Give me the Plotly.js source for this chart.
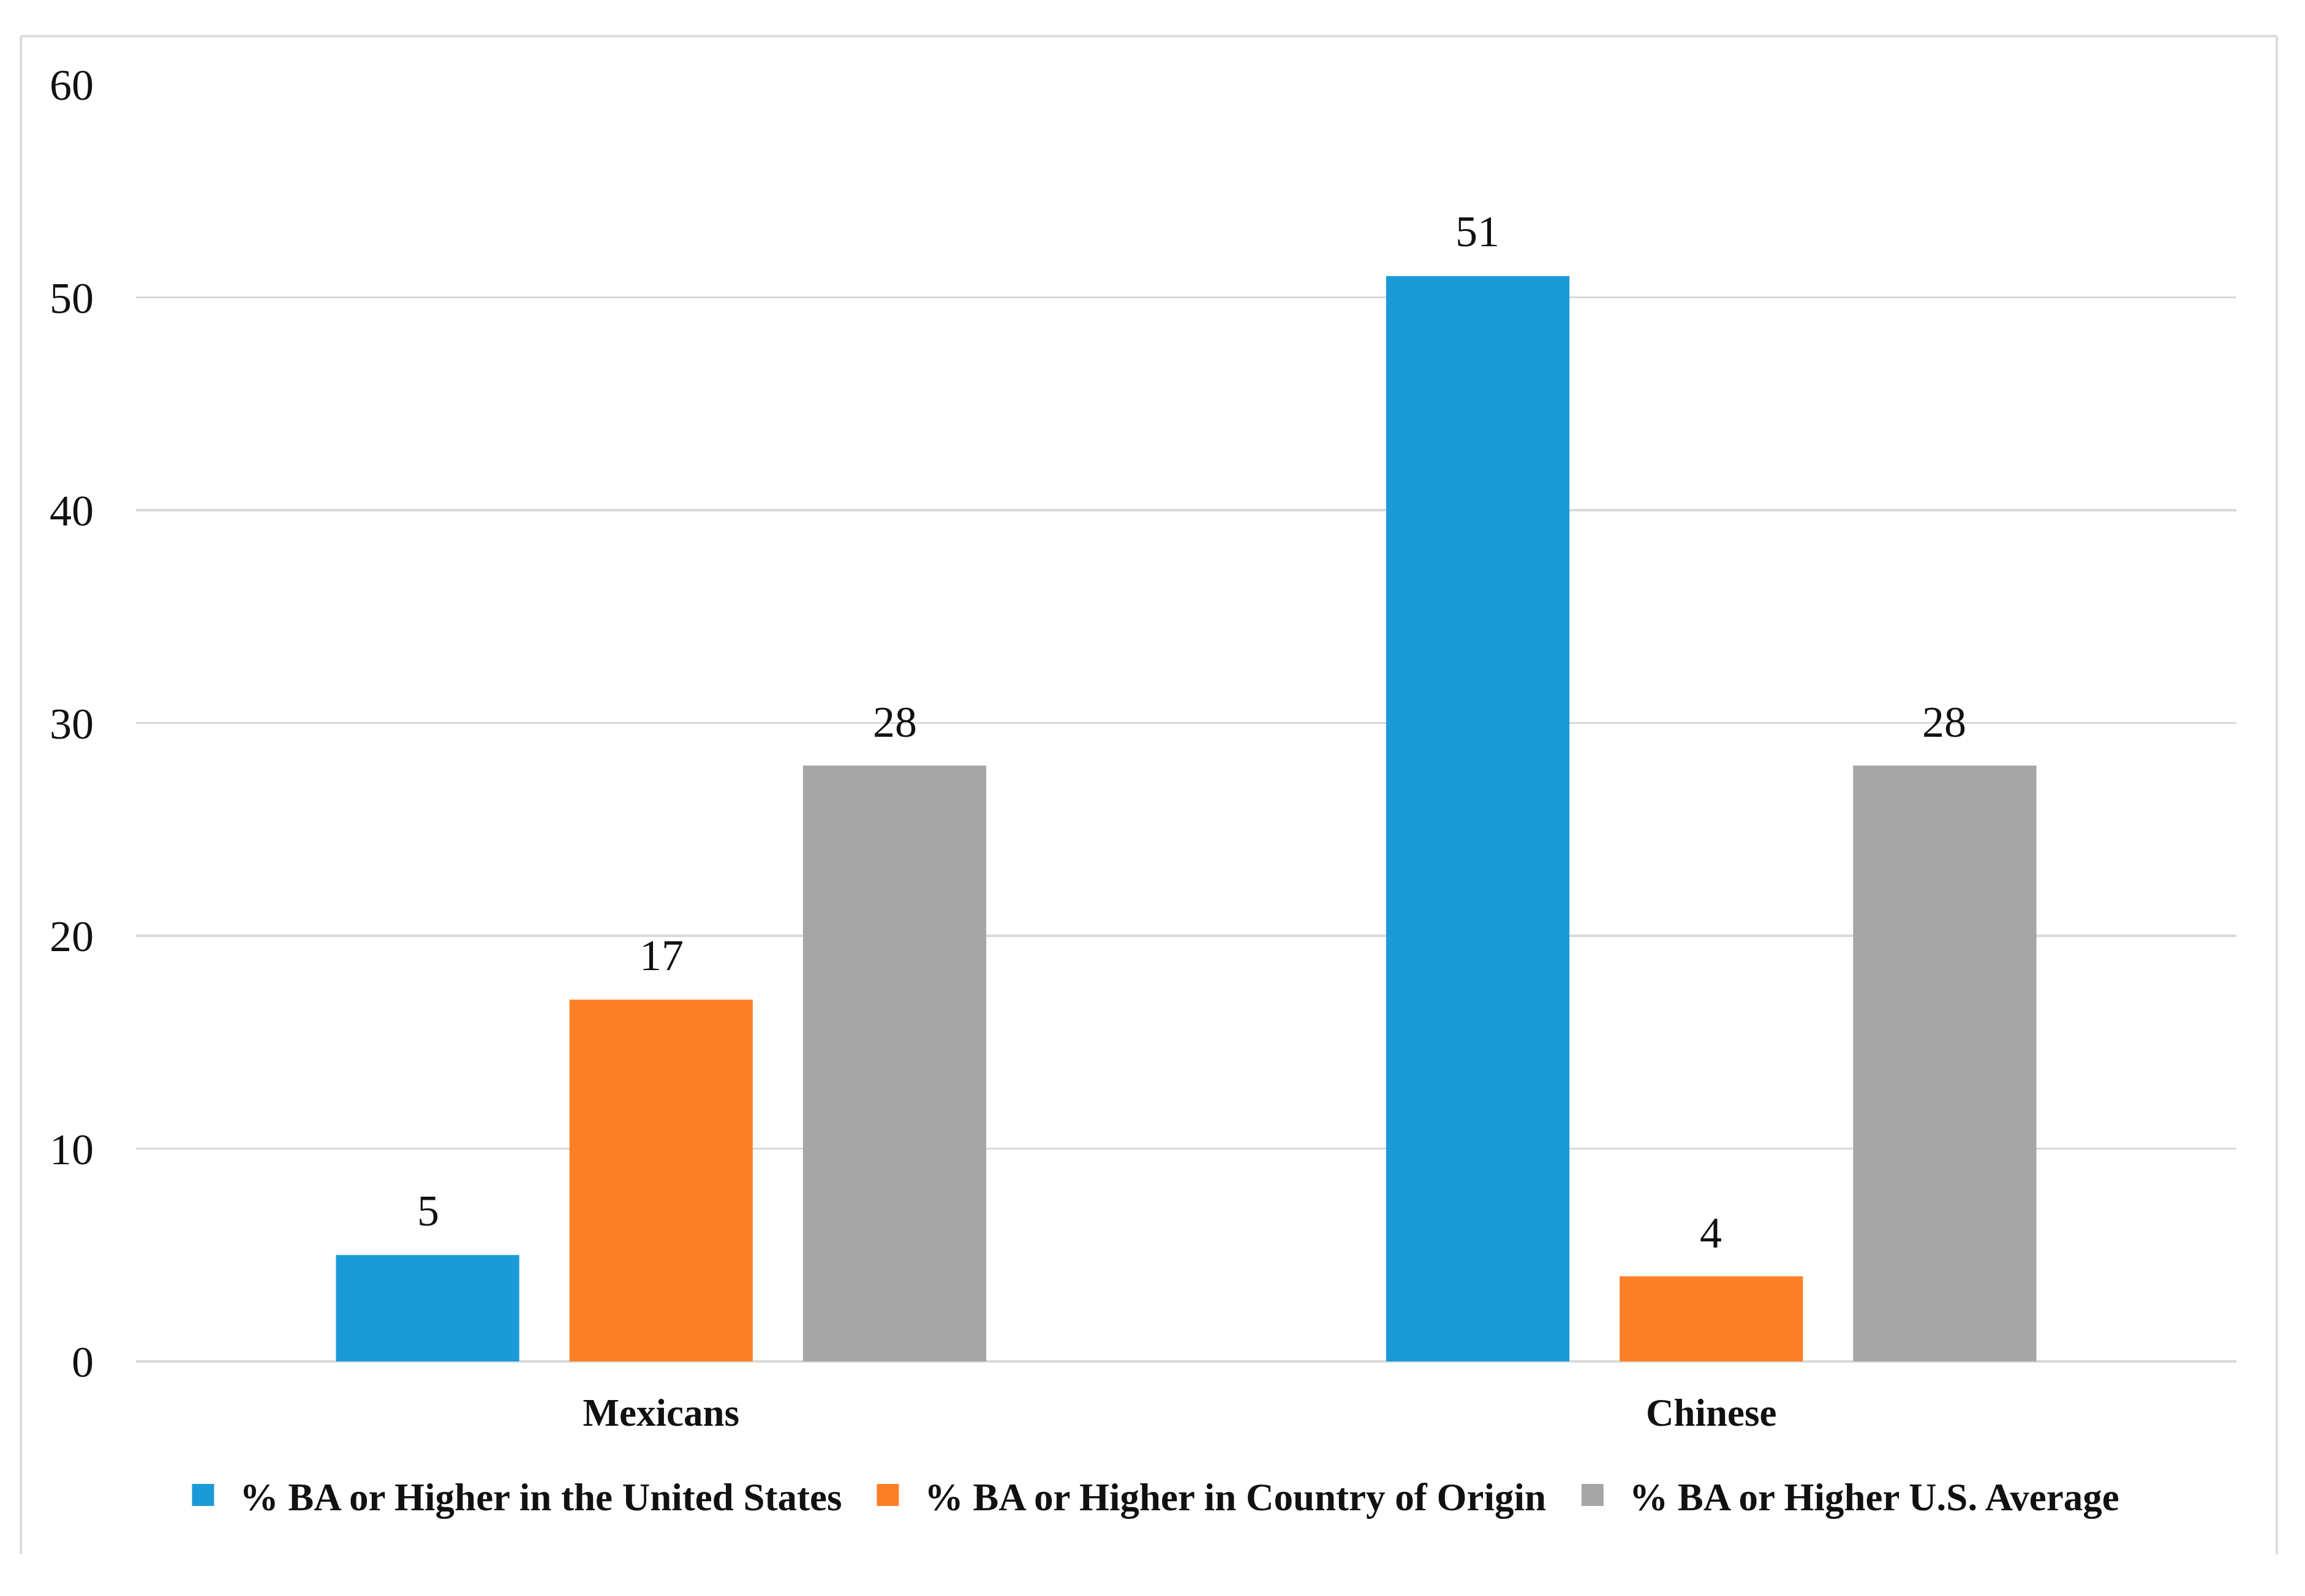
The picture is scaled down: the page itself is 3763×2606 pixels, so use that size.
<!DOCTYPE html>
<html>
<head>
<meta charset="utf-8">
<script src="https://cdn.plot.ly/plotly-3.0.1.min.js"></script>
<style>
  html, body { margin: 0; padding: 0; background: #ffffff; overflow: hidden; }
  #wrap { width: 3763px; height: 2606px; position: relative; overflow: hidden; }
  #chart { position: absolute; left: 0; top: 0; width: 1254px; height: 869px; transform: scale(3); transform-origin: 0 0; }
</style>
</head>
<body>
<div id="wrap"><div id="chart"></div></div>
<script>
// ---- data ----
const categories = ['Mexicans', 'Chinese'];
const seriesNames = [
  '% BA or Higher in the United States',
  '% BA or Higher in Country of Origin',
  '% BA or Higher U.S. Average'
];
const usValues = [5, 51];
const originValues = [17, 4];
const usAverageValues = [28, 28];
const yTickValues = [0, 10, 20, 30, 40, 50, 60];

// ---- styles ----
const seriesColors = ['#1A9BD7', '#FD7F28', '#A6A6A6'];
const serif = 'Liberation Serif, Times New Roman, serif';
const gridColor = '#D9D9D9';
const BARGAP = 0.333;
const BARGROUPGAP = 0.215;

const seriesValues = [usValues, originValues, usAverageValues];
const traces = seriesValues.map((vals, i) => ({
  type: 'bar',
  name: seriesNames[i],
  x: categories,
  y: vals,
  marker: { color: seriesColors[i], line: { width: 0 } },
  hoverinfo: 'x+y+name'
}));

// value labels, placed at each bar's slot centre through the axes
const nSeries = seriesValues.length;
const slot = (1 - BARGAP) / nSeries;
const annotations = [];
seriesValues.forEach((vals, i) => {
  vals.forEach((v, j) => {
    annotations.push({
      xref: 'x', yref: 'y',
      x: j + (i - (nSeries - 1) / 2) * slot,
      y: v,
      text: String(v),
      showarrow: false,
      xanchor: 'center', yanchor: 'bottom',
      yshift: 9,
      font: { family: serif, size: 24, color: '#111111' }
    });
  });
});

// frame (light grey border, open at the bottom)
const L = 74.3, R = 1217, T = 46, B = 740.8, W = 1254, H = 869;
const px = v => (v - L) / (R - L);
const py = v => (B - v) / (B - T);
const frameLine = { color: '#DCDCDC', width: 1.4 };
const shapes = [
  { type: 'line', xref: 'paper', yref: 'paper', x0: px(11.7), x1: px(1239), y0: py(19.7), y1: py(19.7), line: frameLine },
  { type: 'line', xref: 'paper', yref: 'paper', x0: px(11.7), x1: px(11.7), y0: py(19.7), y1: py(845.7), line: frameLine },
  { type: 'line', xref: 'paper', yref: 'paper', x0: px(1239), x1: px(1239), y0: py(19.7), y1: py(845.7), line: frameLine }
];

const layout = {
  width: W,
  height: H,
  paper_bgcolor: '#ffffff',
  plot_bgcolor: '#ffffff',
  margin: { l: L, r: W - R, t: T, b: H - B, pad: 0 },
  barmode: 'group',
  bargap: BARGAP,
  bargroupgap: BARGROUPGAP,
  showlegend: true,
  legend: {
    orientation: 'h',
    xref: 'container', yref: 'container',
    x: 0.498, xanchor: 'center',
    y: 1 - 814 / H, yanchor: 'middle',
    font: { family: serif, size: 21, color: '#111111', weight: 'bold' },
    itemclick: false, itemdoubleclick: false,
    traceorder: 'normal'
  },
  xaxis: {
    type: 'category',
    range: [-0.5, categories.length - 0.5],
    showgrid: false,
    showline: false,
    zeroline: false,
    ticks: '',
    ticklabelstandoff: 13,
    tickfont: { family: serif, size: 21, color: '#111111', weight: 'bold' }
  },
  yaxis: {
    range: [0, 60],
    tickvals: yTickValues,
    ticktext: yTickValues.map(String),
    showgrid: true,
    gridcolor: gridColor,
    gridwidth: 1.3,
    zeroline: true,
    zerolinecolor: gridColor,
    zerolinewidth: 1.6,
    showline: false,
    ticks: '',
    ticklabelstandoff: 22,
    tickfont: { family: serif, size: 24, color: '#111111' }
  },
  annotations: annotations,
  shapes: shapes,
  font: { family: serif, color: '#111111' }
};

Plotly.newPlot('chart', traces, layout, { displayModeBar: false, staticPlot: true });
</script>
</body>
</html>
